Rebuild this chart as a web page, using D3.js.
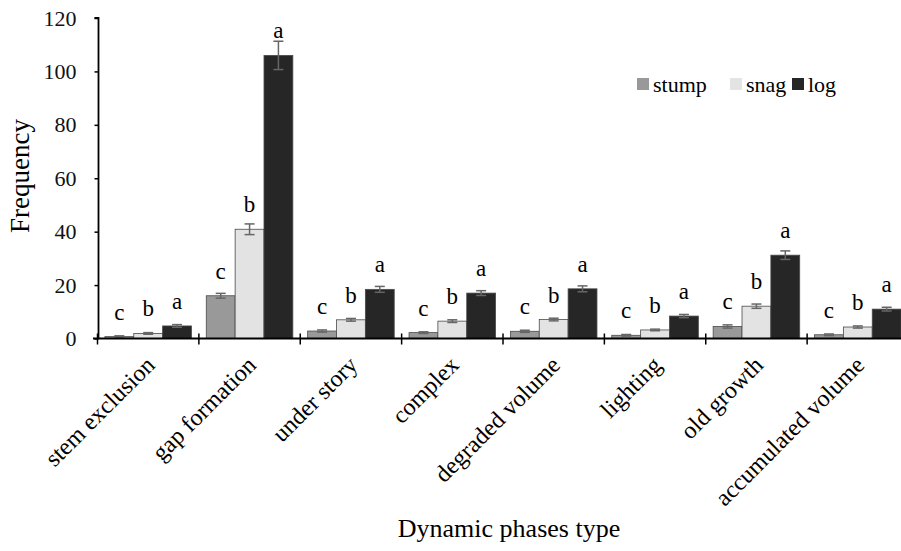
<!DOCTYPE html>
<html>
<head>
<meta charset="utf-8">
<script src="https://cdn.jsdelivr.net/npm/d3@7"></script>
<style>
  body { margin: 0; background: #fff; }
  svg { display: block; font-family: "Liberation Serif", "DejaVu Serif", serif; }
</style>
</head>
<body>
<div id="chart"></div>
<script>
"use strict"

// Frequency of dead wood types by dynamic phase

var categories = [
  "stem exclusion", "gap formation", "under story", "complex",
  "degraded volume", "lighting", "old growth", "accumulated volume"
]
var seriesNames = ["stump", "snag", "log"]
var stump = [0.7, 16.0, 2.8, 2.2, 2.7, 1.2, 4.5, 1.4]
var snag = [1.9, 40.9, 7.0, 6.5, 7.1, 3.2, 12.1, 4.3]
var log = [4.7, 106.0, 18.4, 17.0, 18.6, 8.4, 31.2, 11.0]
var stumpErr = [0.3, 0.9, 0.4, 0.3, 0.4, 0.3, 0.6, 0.3]
var snagErr = [0.3, 2.0, 0.5, 0.5, 0.5, 0.3, 0.8, 0.4]
var logErr = [0.5, 5.3, 1.1, 0.9, 1.1, 0.6, 1.6, 0.7]
var letters = ["c", "b", "a"]
var yTicks = [0, 20, 40, 60, 80, 100, 120]

var colors = ["#999999", "#e3e3e3", "#262626"]
var width = 901
var height = 551

var values = [stump, snag, log]
var errors = [stumpErr, snagErr, logErr]

var rows = []
categories.forEach(function(c, i) {
  seriesNames.forEach(function(s, j) {
    rows.push({ cat: c, series: s, idx: j, value: values[j][i], err: errors[j][i] })
  })
})

var x = d3.scaleBand()
  .domain(categories)
  .range([97.5, 908.5])

var x1 = d3.scaleBand()
  .domain(seriesNames)
  .range([7.4, x.bandwidth() - 7.4])

var y = d3.scaleLinear()
  .domain([0, 120])
  .range([338.5, 18])

var svg = d3.select("#chart").append("svg")
  .attr("width", width)
  .attr("height", height)

// bars
var g = svg.append("g")
var bar = g.selectAll("g.bar")
  .data(rows)
  .enter().append("g")
    .attr("class", "bar")
    .attr("transform", function(d) { return "translate(" + (x(d.cat) + x1(d.series)) + ",0)" })

bar.append("rect")
  .attr("x", 0)
  .attr("y", function(d) { return y(d.value) })
  .attr("width", x1.bandwidth())
  .attr("height", function(d) { return y(0) - y(d.value) })
  .attr("fill", function(d) { return colors[d.idx] })
  .attr("stroke", "#4a4a4a")
  .attr("stroke-width", 0.8)

var cx = x1.bandwidth() / 2
bar.append("line")
  .attr("x1", cx).attr("x2", cx)
  .attr("y1", function(d) { return y(d.value + d.err) })
  .attr("y2", function(d) { return y(d.value - d.err) })
  .attr("stroke", "#666")
  .attr("stroke-width", 1.5)
bar.selectAll("line.cap")
  .data(function(d) { return [d.value + d.err, d.value - d.err] })
  .enter().append("line")
    .attr("class", "cap")
    .attr("x1", cx - 5).attr("x2", cx + 5)
    .attr("y1", function(v) { return y(v) })
    .attr("y2", function(v) { return y(v) })
    .attr("stroke", "#666")
    .attr("stroke-width", 1.5)

bar.append("text")
  .attr("x", cx)
  .attr("y", function(d) { return y(d.value) - 17 })
  .attr("text-anchor", "middle")
  .style("font-size", "23px")
  .text(function(d) { return letters[d.idx] })

// y axis
var yAxis = svg.append("g")
  .attr("transform", "translate(98.5,0)")
  .call(d3.axisLeft(y).tickValues(yTicks).tickSize(4).tickPadding(18))
yAxis.select(".domain").attr("stroke", "#000").attr("stroke-width", 1.8)
  .attr("d", "M-4," + y(120) + "H0V" + y(0))
yAxis.selectAll(".tick line").attr("stroke", "#000").attr("stroke-width", 1.5)
yAxis.selectAll("text")
  .style("font-size", "22px")
  .attr("fill", "#111")
  .attr("font-family", "Liberation Serif, serif")

// x axis
var xAxis = svg.append("g").attr("transform", "translate(0," + y(0) + ")")
xAxis.append("line")
  .attr("x1", 93).attr("x2", width)
  .attr("stroke", "#000").attr("stroke-width", 2.2)
xAxis.selectAll("line.tick")
  .data(categories)
  .enter().append("line")
    .attr("class", "tick")
    .attr("x1", function(d) { return x(d) }).attr("x2", function(d) { return x(d) })
    .attr("y1", -5).attr("y2", 6)
    .attr("stroke", "#000").attr("stroke-width", 1.5)

xAxis.selectAll("text.cat")
  .data(categories)
  .enter().append("text")
    .attr("class", "cat")
    .attr("text-anchor", "end")
    .attr("transform", function(d) {
      return "translate(" + (x(d) + x.bandwidth() / 2 + 2) + ",22) rotate(-45)"
    })
    .attr("dy", "0.35em")
    .style("font-size", "24px")
    .text(function(d) { return d })

// axis titles
svg.append("text")
  .attr("transform", "translate(29,176) rotate(-90)")
  .attr("text-anchor", "middle")
  .style("font-size", "27px")
  .text("Frequency")

svg.append("text")
  .attr("x", 509)
  .attr("y", 537)
  .attr("text-anchor", "middle")
  .style("font-size", "26px")
  .text("Dynamic phases type")

// legend
var legendX = [637, 730, 792]
var legend = svg.append("g").selectAll("g")
  .data(seriesNames)
  .enter().append("g")
    .attr("transform", function(d, i) { return "translate(" + legendX[i] + ",84)" })
legend.append("rect")
  .attr("x", 0).attr("y", -6)
  .attr("width", 12).attr("height", 12)
  .attr("fill", function(d, i) { return colors[i] })
legend.append("text")
  .attr("x", 16)
  .attr("dy", "0.35em")
  .style("font-size", "22px")
  .text(function(d) { return d })
</script>
</body>
</html>
